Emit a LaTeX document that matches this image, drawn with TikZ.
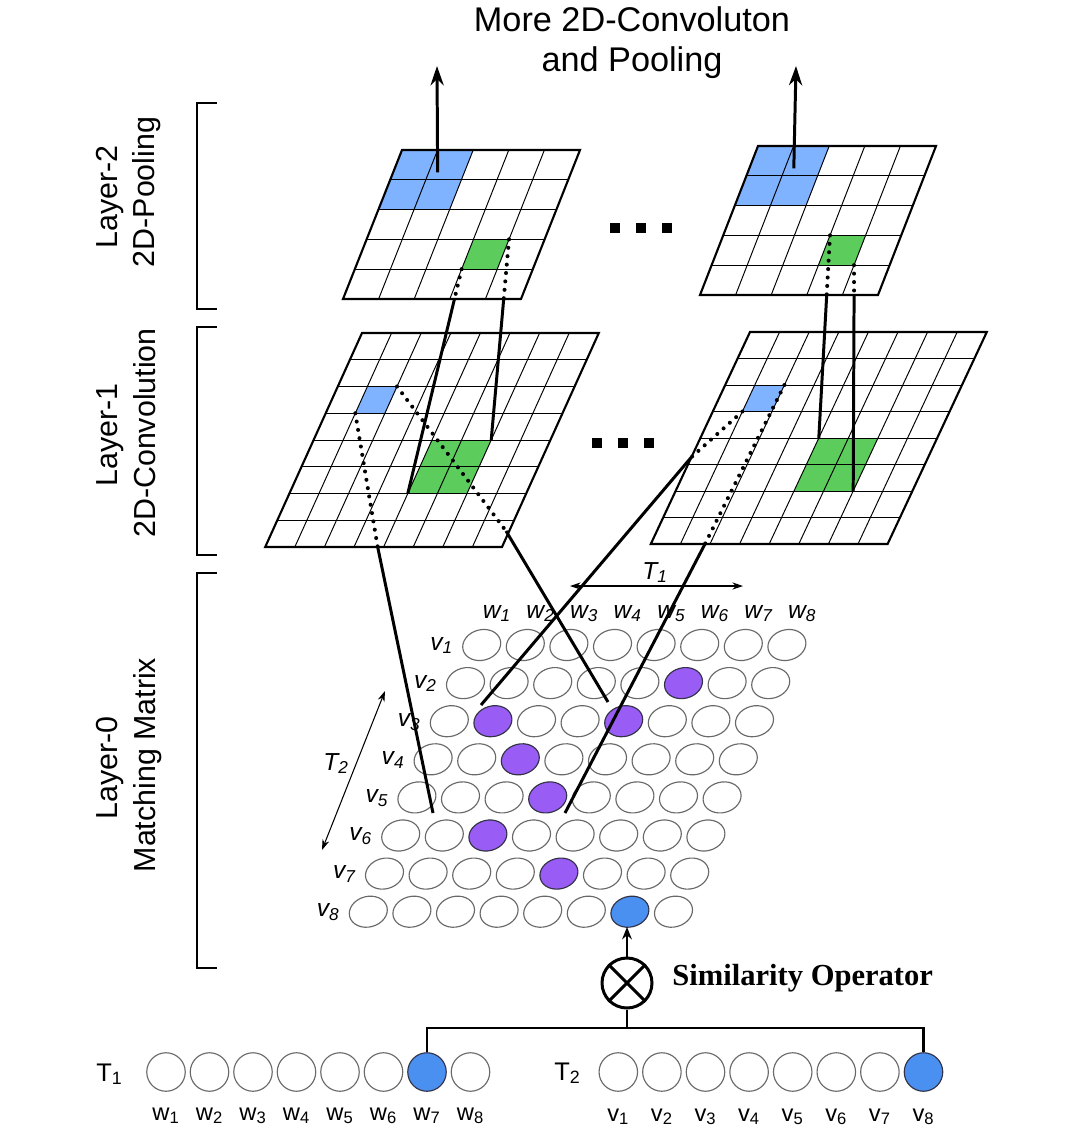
\documentclass[tikz,border=0pt]{standalone}
\usepackage{fontspec}
\setmainfont{Liberation Sans}
\newfontfamily\serifbf{Liberation Serif}
\usetikzlibrary{arrows.meta,shapes.geometric}
\definecolor{gblue}{RGB}{128,179,255}
\definecolor{ggreen}{RGB}{92,204,92}
\definecolor{mpurple}{RGB}{153,92,245}
\definecolor{mblue}{RGB}{74,144,240}
\definecolor{cgray}{RGB}{105,105,105}
\definecolor{cdark}{RGB}{50,50,70}
\newcommand\setgrid[5]{\def\gx{#1}\def\gy{#2}\def\gw{#3}\def\gh{#4}\def\gs{#5}}
\newcommand\GP[2]{({\gx+(#1)*\gw-(#2)*\gs},{\gy+(#2)*\gh})}
\newcommand\drawgrid[2]{%
  \foreach \i in {1,...,#1}{\draw[gridline] \GP{\i}{0} -- \GP{\i}{#2}; \draw[gridline] \GP{0}{\i} -- \GP{#2}{\i};}
  \draw[gridborder] \GP{0}{0} -- \GP{#2}{0} -- \GP{#2}{#2} -- \GP{0}{#2} -- cycle;}
\newcommand\gcell[5]{\fill[#5] \GP{#1}{#2} -- \GP{#3}{#2} -- \GP{#3}{#4} -- \GP{#1}{#4} -- cycle;}
\newcommand\setpc[3]{\expandafter\def\csname pc-#1-#2\endcsname{#3}}
\setpc{1}{5}{mpurple}\setpc{2}{1}{mpurple}\setpc{2}{4}{mpurple}\setpc{3}{2}{mpurple}
\setpc{4}{3}{mpurple}\setpc{5}{2}{mpurple}\setpc{6}{4}{mpurple}\setpc{7}{6}{mblue}
\begin{document}
\begin{tikzpicture}[x=0.02cm,y=-0.02cm,
  gridline/.style={line width=0.55pt},
  gridborder/.style={line width=1.2pt},
  conn/.style={line width=1.7pt},
  hidden/.style={line width=2.3pt,line cap=round,dash pattern=on 0pt off 4.8pt},
  upar/.style={line width=1.7pt,-{Stealth[length=11pt,width=7.5pt]}},
  thinar/.style={line width=0.6pt,{Stealth[length=6pt,width=4pt]}-{Stealth[length=6pt,width=4pt]}},
  mcell/.style={ellipse,minimum width=0.77cm,minimum height=0.61cm,inner sep=0pt,rotate=15,line width=0.65pt},
  bcirc/.style={circle,minimum size=0.77cm,inner sep=0pt,line width=0.65pt},
  txt/.style={inner sep=0pt,anchor=base},
  layerlab/.style={inner sep=0pt,anchor=base,rotate=90,font=\fontsize{17.3}{20}\selectfont},
  mlab/.style={inner sep=0pt,anchor=base,font=\fontsize{14}{16}\selectfont\itshape},
  blab/.style={inner sep=0pt,anchor=base,font=\fontsize{13.5}{16}\selectfont},
  bracket/.style={line width=1.1pt},
  ]
\useasboundingbox (0,0) rectangle (1080,1140);
\fill[white] (0,0) rectangle (1080,1140);

% title
\node[txt,font=\fontsize{19.5}{23}\selectfont] (title1) at (632,31.5) {More 2D-Convoluton};
\node[txt,font=\fontsize{19.5}{23}\selectfont] (title2) at (632,71.5) {and Pooling};

% brackets and layer labels
\draw[bracket] (217,103) -- (197,103) -- (197,309) -- (217,309);
\draw[bracket] (217,327) -- (197,327) -- (197,555) -- (217,555);
\draw[bracket] (217,573) -- (197,573) -- (197,968) -- (217,968);
\node[layerlab] (lab2a) at (117,197) {Layer-2};
\node[layerlab] (lab2b) at (154,192) {2D-Pooling};
\node[layerlab] (lab1a) at (117,435) {Layer-1};
\node[layerlab] (lab1b) at (155,433) {2D-Convolution};
\node[layerlab] (lab0a) at (117,768) {Layer-0};
\node[layerlab] (lab0b) at (155,765) {Matching Matrix};

% Layer-1 grids
\setgrid{362}{333}{29.6}{26.75}{12.1}
\gcell{1}{2}{2}{3}{gblue}
\gcell{4}{4}{6}{6}{ggreen}
\drawgrid{7}{8}
\path \GP{4}{6} coordinate (C-ggbl) \GP{6}{4} coordinate (C-ggtr)
      \GP{1}{3} coordinate (C-bbl) \GP{2}{2} coordinate (C-btr)
      \GP{3.8}{8} coordinate (C-k1) \GP{7.89}{7.4} coordinate (C-k2);

\setgrid{750}{332}{29.6}{26.5}{12.4}
\gcell{1}{2}{2}{3}{gblue}
\gcell{4}{4}{6}{6}{ggreen}
\drawgrid{7}{8}
\path \GP{4}{4} coordinate (D-ggtl) \GP{6}{6} coordinate (D-ggbr)
      \GP{1}{3} coordinate (D-bbl) \GP{2}{2} coordinate (D-btr)
      \GP{0}{4.72} coordinate (D-k1) \GP{1.83}{8} coordinate (D-k2);

% Layer-2 grids
\setgrid{402}{150}{35.6}{29.8}{11.8}
\gcell{0}{0}{2}{2}{gblue}
\gcell{3}{3}{4}{4}{ggreen}
\drawgrid{4}{5}
\path \GP{3}{4} coordinate (A-gbl) \GP{4}{3} coordinate (A-gtr)
      \GP{1.25}{0.75} coordinate (A-up) \GP{0}{5} coordinate (A-bl) \GP{5}{5} coordinate (A-br);

\setgrid{758}{146}{35.6}{29.8}{11.6}
\gcell{0}{0}{2}{2}{gblue}
\gcell{3}{3}{4}{4}{ggreen}
\drawgrid{4}{5}
\path \GP{3}{3} coordinate (B-gtl) \GP{4}{4} coordinate (B-gbr)
      \GP{1.25}{0.75} coordinate (B-up) \GP{0}{5} coordinate (B-bl) \GP{5}{5} coordinate (B-br);

% ellipsis marks
\foreach \x in {615,641,667}{\fill (\x-5,223) rectangle (\x+5,233);}
\foreach \x in {597,623,649}{\fill (\x-5,438) rectangle (\x+5,448);}

% arrows up
\coordinate (A-top) at (437,66);
\coordinate (B-top) at (796,66);
\draw[upar] (A-up) -- (A-top);
\draw[upar] (B-up) -- (B-top);

% layer-2 to layer-1 connections
\coordinate (A-k1) at (intersection of A-gbl--C-ggbl and A-bl--A-br);
\coordinate (A-k2) at (intersection of A-gtr--C-ggtr and A-bl--A-br);
\coordinate (B-k1) at (intersection of B-gtl--D-ggtl and B-bl--B-br);
\coordinate (B-k2) at (intersection of B-gbr--D-ggbr and B-bl--B-br);
\draw[hidden] (A-gbl) -- (A-k1);
\draw[hidden] (A-gtr) -- (A-k2);
\draw[hidden] (B-gtl) -- (B-k1);
\draw[hidden] (B-gbr) -- (B-k2);
\draw[conn] (A-k1) -- (C-ggbl);
\draw[conn] (A-k2) -- (C-ggtr);
\draw[conn] (B-k1) -- (D-ggtl);
\draw[conn] (B-k2) -- (D-ggbr);

% matching matrix
\foreach \r in {0,...,7}{\foreach \c in {0,...,7}{%
  \edef\fc{\ifcsname pc-\r-\c\endcsname\csname pc-\r-\c\endcsname\else white\fi}%
  \edef\dc{\ifcsname pc-\r-\c\endcsname cdark\else cgray\fi}%
  \node[mcell,fill=\fc,draw=\dc] (m-\r-\c) at ({481.7-16.2*\r+43.6*\c},{645+38.1*\r}) {};
}}
\foreach \c in {1,...,8}{\node[mlab] (wl-\c) at ({497+43.6*(\c-1)},618) {w\textsubscript{\c}};}
\foreach \r in {1,...,8}{\node[mlab] (vl-\r) at ({441.7-16.2*(\r-1)},{650+38.1*(\r-1)}) {v\textsubscript{\r}};}

\coordinate (t1a) at (570,586);
\coordinate (t1b) at (743,586);
\draw[thinar] (t1a) -- (t1b);
\node[mlab] (t1lab) at (655,579) {T\textsubscript{1}};
\coordinate (t2a) at (385,691);
\coordinate (t2b) at (322,850);
\draw[thinar] (t2a) -- (t2b);
\node[mlab] (t2lab) at (336,770) {T\textsubscript{2}};

% layer-1 to matrix connections
\coordinate (ea) at (433,813);
\coordinate (eb) at (608,702);
\coordinate (ec) at (481,705);
\coordinate (ed) at (565,813);
\draw[hidden] (C-bbl) -- (C-k1);
\draw[hidden] (C-btr) -- (C-k2);
\draw[hidden] (D-bbl) -- (D-k1);
\draw[hidden] (D-btr) -- (D-k2);
\draw[conn] (C-k1) -- (ea);
\draw[conn] (C-k2) -- (eb);
\draw[conn] (D-k1) -- (ec);
\draw[conn] (D-k2) -- (ed);

% bottom sequences
\foreach \i in {1,...,8}{%
  \edef\fc{\ifnum\i=7 mblue\else white\fi}\edef\dc{\ifnum\i=7 cdark\else cgray\fi}%
  \node[bcirc,fill=\fc,draw=\dc] (ta-\i) at ({166+43.5*(\i-1)},1072) {};
  \node[blab] (la-\i) at ({166+43.5*(\i-1)},1120) {w\textsubscript{\i}};
  \edef\fc{\ifnum\i=8 mblue\else white\fi}\edef\dc{\ifnum\i=8 cdark\else cgray\fi}%
  \node[bcirc,fill=\fc,draw=\dc] (tb-\i) at ({618.3+43.6*(\i-1)},1072) {};
  \node[blab] (lb-\i) at ({618.3+43.6*(\i-1)},1121) {v\textsubscript{\i}};
}
\node[inner sep=0pt,anchor=base west,font=\fontsize{14.5}{16}\selectfont] (T1) at (96,1081) {T\textsubscript{1}};
\node[inner sep=0pt,anchor=base west,font=\fontsize{14.5}{16}\selectfont] (T2) at (554,1080) {T\textsubscript{2}};

% similarity operator
\node[circle,draw,line width=1.7pt,minimum size=1cm,inner sep=0pt] (sim) at (627,983) {};
\draw[line width=1.7pt] (sim.north west) -- (sim.south east) (sim.north east) -- (sim.south west);
\node[inner sep=0pt,anchor=base west,font=\serifbf\bfseries\fontsize{17.4}{20}\selectfont] (simlab) at (672,985) {Similarity Operator};
\coordinate (bus) at (627,1028);
\draw[line width=1.4pt] (ta-7.north) |- (bus) -| (tb-8.north);
\draw[line width=1.4pt] (sim.south) -- (bus);
\draw[line width=1.3pt,-{Stealth[length=7pt,width=5.5pt]}] (sim.north) -- (sim.north |- m-7-6.south);
\end{tikzpicture}
\end{document}
